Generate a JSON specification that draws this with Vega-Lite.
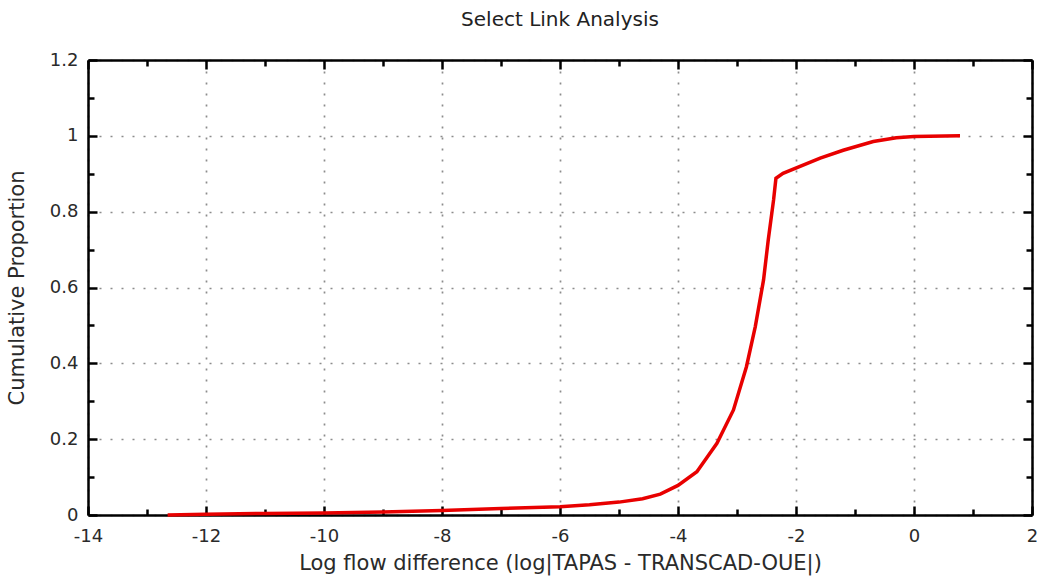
{
  "$schema": "https://vega.github.io/schema/vega-lite/v6.json",
  "autosize": {"type": "none"},
  "padding": {"left": 88, "top": 60, "right": 5, "bottom": 63},
  "width": 944,
  "height": 455,
  "title": {"text": "Select Link Analysis", "anchor": "middle", "offset": 21, "fontSize": 20, "fontWeight": "normal", "font": "DejaVu Sans", "color": "#222222"},
  "config": {
    "view": {"stroke": null},
    "axis": {"domainColor": "#000000", "domainWidth": 2.5, "tickColor": "#000000", "tickWidth": 2.5, "labelFont": "DejaVu Sans", "labelFontSize": 18, "labelColor": "#2a2a2a", "titleFont": "DejaVu Sans", "titleFontSize": 21, "titleFontWeight": "normal", "titleColor": "#2a2a2a", "gridColor": "#8c8c8c", "gridWidth": 1.7, "gridDash": [2, 9]}
  },
  "data": {"values": [
    {"x": -12.65, "y": 0.0},
    {"x": -12.0, "y": 0.002},
    {"x": -11.0, "y": 0.004},
    {"x": -10.0, "y": 0.005},
    {"x": -9.0, "y": 0.008},
    {"x": -8.0, "y": 0.012},
    {"x": -7.0, "y": 0.017},
    {"x": -6.0, "y": 0.022},
    {"x": -5.5, "y": 0.027},
    {"x": -5.0, "y": 0.034},
    {"x": -4.6, "y": 0.043},
    {"x": -4.3, "y": 0.055},
    {"x": -4.0, "y": 0.078},
    {"x": -3.68, "y": 0.114},
    {"x": -3.34, "y": 0.189},
    {"x": -3.06, "y": 0.277},
    {"x": -2.84, "y": 0.391},
    {"x": -2.69, "y": 0.497},
    {"x": -2.55, "y": 0.62},
    {"x": -2.47, "y": 0.726},
    {"x": -2.38, "y": 0.831},
    {"x": -2.34, "y": 0.888},
    {"x": -2.22, "y": 0.901},
    {"x": -1.59, "y": 0.941},
    {"x": -1.2, "y": 0.962},
    {"x": -0.69, "y": 0.985},
    {"x": -0.3, "y": 0.995},
    {"x": 0.0, "y": 0.998},
    {"x": 0.78, "y": 1.0}
  ]},
  "layer": [
    {
      "mark": {"type": "line", "color": "#e80000", "strokeWidth": 3.5},
      "encoding": {
        "x": {"field": "x", "type": "quantitative", "scale": {"domain": [-14, 2], "nice": false, "zero": false},
          "axis": {"orient": "bottom", "title": "Log flow difference (log|TAPAS - TRANSCAD-OUE|)", "titlePadding": 4,
            "values": [-14, -13, -12, -11, -10, -9, -8, -7, -6, -5, -4, -3, -2, -1, 0, 1, 2],
            "labelExpr": "datum.value % 2 !== 0 ? '' : '' + datum.value",
            "tickSize": {"condition": {"test": "datum.value % 2 !== 0", "value": -6}, "value": -9},
            "gridOpacity": {"condition": {"test": "datum.value % 2 !== 0", "value": 0}, "value": 1},
            "labelPadding": 21, "labelFlush": false, "labelOverlap": false}},
        "y": {"field": "y", "type": "quantitative", "scale": {"domain": [0, 1.2], "nice": false},
          "axis": {"orient": "left", "title": "Cumulative Proportion", "titlePadding": 22,
            "values": [0, 0.1, 0.2, 0.3, 0.4, 0.5, 0.6, 0.7, 0.8, 0.9, 1.0, 1.1, 1.2],
            "labelExpr": "round(datum.value*10) % 2 === 1 ? '' : '' + round(datum.value*10)/10",
            "tickSize": {"condition": {"test": "round(datum.value*10) % 2 === 1", "value": -6}, "value": -9},
            "gridOpacity": {"condition": {"test": "round(datum.value*10) % 2 === 1", "value": 0}, "value": 1},
            "labelPadding": 19, "labelFlush": false, "labelOverlap": false}}
      }
    },
    {
      "mark": {"type": "line", "strokeOpacity": 0},
      "encoding": {
        "x": {"field": "x", "type": "quantitative",
          "axis": {"orient": "top", "title": null, "labels": false, "grid": false,
            "values": [-14, -13, -12, -11, -10, -9, -8, -7, -6, -5, -4, -3, -2, -1, 0, 1, 2],
            "tickSize": {"condition": {"test": "datum.value % 2 !== 0", "value": -6}, "value": -9}}},
        "y": {"field": "y", "type": "quantitative",
          "axis": {"orient": "right", "title": null, "labels": false, "grid": false,
            "values": [0, 0.1, 0.2, 0.3, 0.4, 0.5, 0.6, 0.7, 0.8, 0.9, 1.0, 1.1, 1.2],
            "tickSize": {"condition": {"test": "round(datum.value*10) % 2 === 1", "value": -6}, "value": -9}}}
      }
    }
  ],
  "resolve": {"axis": {"x": "independent", "y": "independent"}}
}
